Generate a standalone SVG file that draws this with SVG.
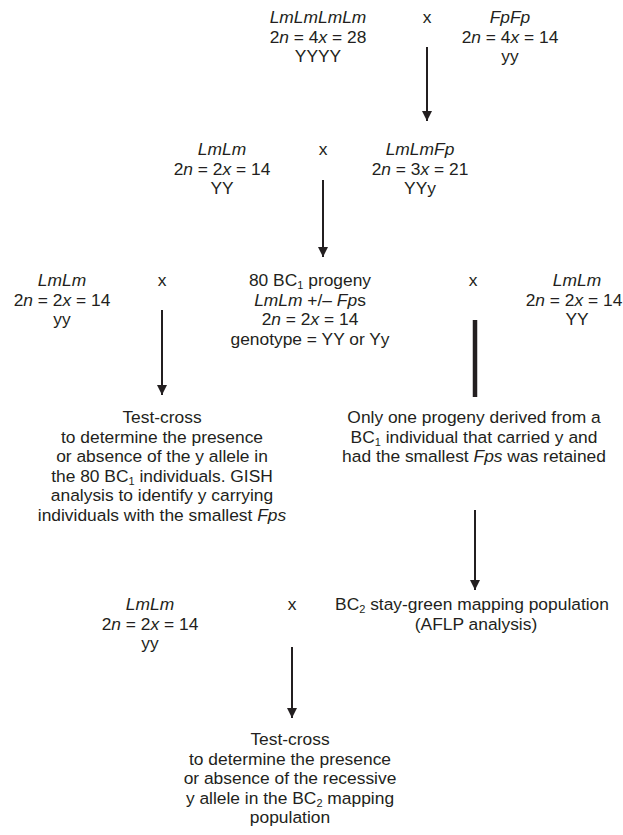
<svg xmlns="http://www.w3.org/2000/svg" width="623" height="835" viewBox="0 0 623 835">
<style>
text{font-family:"Liberation Sans",Arial,sans-serif;font-size:17.4px;fill:#231f20;text-anchor:middle}
.i{font-style:italic}
.sub{font-size:11px}
.ln{stroke:#231f20;stroke-width:2;fill:none}
.thick{stroke:#231f20;stroke-width:4.5;fill:none}
</style>
<defs>
<marker id="ah" viewBox="0 0 10 10" refX="10" refY="5" markerWidth="5" markerHeight="5" markerUnits="strokeWidth" orient="auto">
<path d="M0,0 L10,5 L0,10 z" fill="#231f20"/>
</marker>
</defs>
<rect width="623" height="835" fill="#fff"/>

<g id="p1">
<text x="318" y="23" class="i">LmLmLmLm</text>
<text x="318" y="42.5">2<tspan class="i">n</tspan> = 4<tspan class="i">x</tspan> = 28</text>
<text x="318" y="62">YYYY</text>
</g>
<g id="cross1"><text x="427" y="23">x</text></g>
<g id="p2">
<text x="510" y="23" class="i">FpFp</text>
<text x="510" y="42.5">2<tspan class="i">n</tspan> = 4<tspan class="i">x</tspan> = 14</text>
<text x="510" y="62">yy</text>
</g>

<g id="p3">
<text x="222" y="155" class="i">LmLm</text>
<text x="222" y="174.5">2<tspan class="i">n</tspan> = 2<tspan class="i">x</tspan> = 14</text>
<text x="222" y="194">YY</text>
</g>
<g id="cross2"><text x="323" y="155">x</text></g>
<g id="f1">
<text x="420" y="155" class="i">LmLmFp</text>
<text x="420" y="174.5">2<tspan class="i">n</tspan> = 3<tspan class="i">x</tspan> = 21</text>
<text x="420" y="194">YYy</text>
</g>

<g id="p4">
<text x="62" y="286" class="i">LmLm</text>
<text x="62" y="305.5">2<tspan class="i">n</tspan> = 2<tspan class="i">x</tspan> = 14</text>
<text x="62" y="325">yy</text>
</g>
<g id="cross3"><text x="162" y="286">x</text></g>
<g id="bc1">
<text x="310" y="286">80 BC<tspan class="sub" dy="3">1</tspan><tspan dy="-3"> progeny</tspan></text>
<text x="310" y="305.5"><tspan class="i">LmLm</tspan> +/– <tspan class="i">Fp</tspan>s</text>
<text x="310" y="325">2<tspan class="i">n</tspan> = 2<tspan class="i">x</tspan> = 14</text>
<text x="310" y="344.5">genotype = YY or Yy</text>
</g>
<g id="cross4"><text x="473" y="286">x</text></g>
<g id="p5">
<text x="577" y="286" class="i">LmLm</text>
<text x="574" y="305.5">2<tspan class="i">n</tspan> = 2<tspan class="i">x</tspan> = 14</text>
<text x="577" y="325">YY</text>
</g>

<g id="testcross1">
<text x="162" y="423">Test-cross</text>
<text x="162" y="442.5">to determine the presence</text>
<text x="162" y="462">or absence of the y allele in</text>
<text x="162" y="481.5">the 80 BC<tspan class="sub" dy="3">1</tspan><tspan dy="-3"> individuals. GISH</tspan></text>
<text x="162" y="501">analysis to identify y carrying</text>
<text x="162" y="520.5">individuals with the smallest <tspan class="i">Fps</tspan></text>
</g>
<g id="retained">
<text x="474" y="423">Only one progeny derived from a</text>
<text x="474" y="442.5">BC<tspan class="sub" dy="3">1</tspan><tspan dy="-3"> individual that carried y and</tspan></text>
<text x="474" y="462">had the smallest <tspan class="i">Fps</tspan> was retained</text>
</g>

<g id="p6">
<text x="150" y="610" class="i">LmLm</text>
<text x="150" y="629.5">2<tspan class="i">n</tspan> = 2<tspan class="i">x</tspan> = 14</text>
<text x="150" y="649">yy</text>
</g>
<g id="cross5"><text x="292" y="610">x</text></g>
<g id="bc2">
<text x="472" y="610">BC<tspan class="sub" dy="3">2</tspan><tspan dy="-3"> stay-green mapping population</tspan></text>
<text x="476" y="629.5">(AFLP analysis)</text>
</g>

<g id="testcross2">
<text x="290" y="745">Test-cross</text>
<text x="290" y="764.5">to determine the presence</text>
<text x="290" y="784">or absence of the recessive</text>
<text x="290" y="803.5">y allele in the BC<tspan class="sub" dy="3">2</tspan><tspan dy="-3"> mapping</tspan></text>
<text x="290" y="823">population</text>
</g>

<g id="connectors">
<line class="ln" x1="427" y1="47" x2="427" y2="121" marker-end="url(#ah)"/>
<line class="ln" x1="323" y1="180" x2="323" y2="257" marker-end="url(#ah)"/>
<line class="ln" x1="162" y1="310" x2="162" y2="395" marker-end="url(#ah)"/>
<line class="thick" x1="475" y1="320" x2="475" y2="397"/>
<line class="ln" x1="475" y1="510" x2="475" y2="590" marker-end="url(#ah)"/>
<line class="ln" x1="292" y1="647" x2="292" y2="718" marker-end="url(#ah)"/>
</g>
</svg>
